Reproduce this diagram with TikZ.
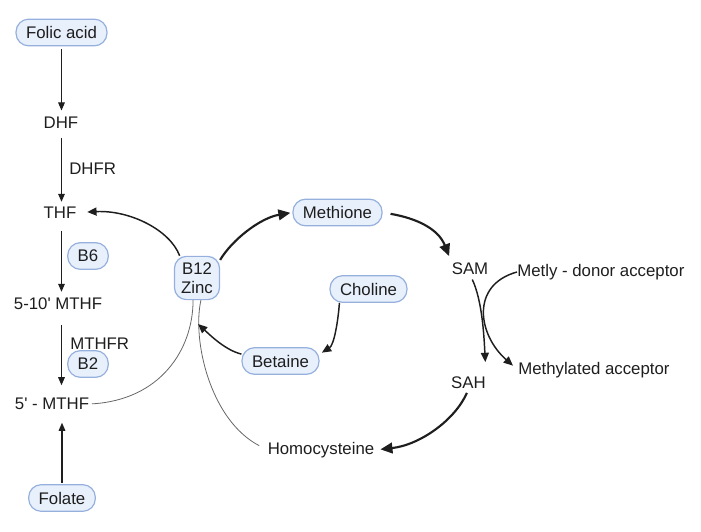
\documentclass[tikz,border=0pt]{standalone}
\usepackage{fontspec}
\setmainfont{Liberation Sans}
\usetikzlibrary{arrows.meta}
\definecolor{pillfill}{RGB}{232,240,252}
\definecolor{pilldraw}{RGB}{150,176,222}
\definecolor{ink}{RGB}{30,30,30}
\begin{document}
\begin{tikzpicture}[x=0.75pt,y=-0.75pt,
  font=\fontsize{12.6}{14.5}\selectfont,
  pill/.style={draw=pilldraw,fill=pillfill,line width=0.9pt,rounded corners=9.5pt,
    minimum height=20pt,inner xsep=7.5pt,inner ysep=2pt,text=ink},
  lbl/.style={inner sep=0pt,text=ink},
  thinarr/.style={draw=ink,line width=0.8pt,-{Triangle[length=6pt,width=5pt]}},
  midarr/.style={draw=ink,line width=1.1pt,-{Triangle[length=7pt,width=6pt]}},
  bigarr/.style={draw=ink,line width=1.6pt,-{Triangle[length=9pt,width=8pt]}},
  faint/.style={draw=black!60,line width=0.6pt}]
\useasboundingbox (0,0) rectangle (701,532);

% left column
\node[pill] (folic) at (61.5,32.5) {Folic acid};
\node[lbl] (dhf) at (61,122.5) {DHF};
\node[lbl] (thf) at (60,212.5) {THF};
\node[lbl] (m510) at (58,304) {5-10\textquotesingle{} MTHF};
\node[lbl] (m5) at (52,404) {5\textquotesingle{} - MTHF};
\node[pill] (folate) at (62,498) {Folate};
\node[lbl,anchor=west] (dhfr) at (69,168.5) {DHFR};
\node[pill] (b6) at (88,256) {B6};
\node[lbl,anchor=west] (mthfr) at (70,344) {MTHFR};
\node[pill] (b2) at (88,364) {B2};

% cycle
\node[pill,align=center,inner xsep=5pt,inner ysep=4.5pt,rounded corners=9pt] (b12) at (197,278) {B12\\Zinc};
\node[pill] (methione) at (337.5,212.5) {Methione};
\node[pill] (choline) at (368.5,289) {Choline};
\node[pill] (betaine) at (280.5,361) {Betaine};
\node[lbl] (sam) at (470,268.5) {SAM};
\node[lbl] (sah) at (468.5,383) {SAH};
\node[lbl,anchor=west] (metly) at (517,272) {Metly - donor acceptor};
\node[lbl,anchor=west] (methyl) at (518,370) {Methylated acceptor};
\node[lbl] (homo) at (321,450) {Homocysteine};
\coordinate (join) at (198,324);

% vertical arrows
\draw[thinarr,shorten <=2pt,shorten >=4.5pt] (folic.south) -- (folic.south |- dhf.north);
\draw[thinarr,shorten <=7pt,shorten >=3.5pt] (folic.south |- dhf.south) -- (folic.south |- thf.north);
\draw[thinarr,shorten <=9pt,shorten >=4.5pt] (folic.south |- thf.south) -- (folic.south |- m510.north);
\draw[thinarr,shorten <=11pt,shorten >=9.5pt] (folic.south |- m510.south) -- (folic.south |- m5.north);
\draw[thinarr,shorten <=1pt,shorten >=9.5pt] (folate.north) -- (folate.north |- m5.south);

% curves
\draw[midarr,shorten >=8pt] (b12.128) .. controls (170,230) and (130,210) .. (thf.east);
\draw[bigarr,shorten >=1.5pt] (b12.38) .. controls (232,240) and (260,218) .. (methione.west);
\draw[bigarr,shorten <=6pt,shorten >=5pt] (methione.east) .. controls (415,218) and (438,228) .. (sam.north west);
\draw[midarr,shorten <=4pt,shorten >=11pt] (sam.south) .. controls (482,300) and (484,335) .. (sah.north east);
\draw[midarr,shorten >=5pt] (metly.west) .. controls (470,285) and (478,335) .. (methyl.west);
\draw[bigarr,shorten <=3pt,shorten >=4.5pt] (sah.south) .. controls (455,420) and (420,445) .. (homo.east);
\draw[faint,shorten <=7pt] (homo.west) .. controls (210,420) and (192,340) .. (b12.-80);
\draw[faint,shorten <=2pt] (m5.east) .. controls (160,400) and (193,350) .. (b12.-100);
\draw[midarr] (betaine.170) .. controls (225,350) and (210,335) .. (join);
\draw[midarr,shorten >=2pt] ([xshift=7.5pt]choline.south west) .. controls (338,322) and (334,345) .. (betaine.10);
\end{tikzpicture}
\end{document}
